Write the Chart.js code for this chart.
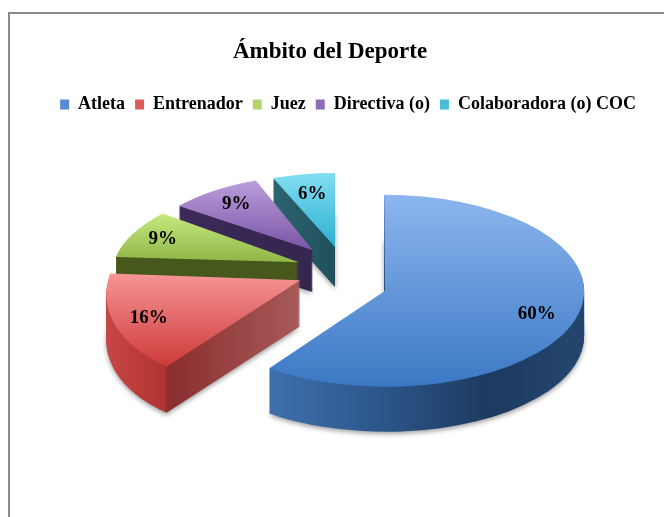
<!DOCTYPE html>
<html>
<head>
<meta charset="utf-8">
<style>html,body{margin:0;padding:0;background:#fff}canvas{display:block}</style>
<script src="https://cdn.jsdelivr.net/npm/chart.js@4"></script>
</head>
<body>
<canvas id="c" width="664" height="517"></canvas>
<script>
const categories = ['Atleta', 'Entrenador', 'Juez', 'Directiva (o)', 'Colaboradora (o) COC'];
const values = [60, 16, 9, 9, 6];
const titleText = 'Ámbito del Deporte';

// Swatch colours
const swatchColors = ['#5b8ad4', '#dc5c5a', '#b0d46a', '#8d6dba', '#48bcd8'];
// Top face gradient (far edge -> near edge)
const topColors = [['#8db6ef', '#3b78c4'], ['#f79595', '#cc3a38'], ['#c8e880', '#8fb646'], ['#bb9ddb', '#7a55a6'], ['#82def2', '#2cb0d0']];
// Side wall gradient (left -> right)
const wallColors = [
  [[0, '#3e70ac'], [0.3, '#2f5a90'], [0.7, '#1d3a60'], [1, '#24466e']],
  [[0, '#c84848'], [0.4, '#b23432'], [0.42, '#8a2e2e'], [1, '#a85a5a']],
  [[0, '#46581c'], [1, '#46581c']],
  [[0, '#3a2a58'], [1, '#35264f']],
  [[0, '#2c6470'], [1, '#1f505c']]
];
// Tilted-view projection for each exploded slice
const pieCentre = {x: 349, y: 272};
const tilt = 0.49;
const explode = [38, 54, 53, 59, 75];
const lift = [13, -3, -1, 1, 11];
const radiusX = [199, 192, 185, 170, 168];
const radiusY = [96, 107, 83, 75, 74];
const shear = [0.01, -0.24, -0.27, -0.08, 0];
const depth = [45, 46, 44, 42, 40];
const labelFraction = [0.8, 0.82, 0.82, 0.77, 0.72];
const legendShift = 18;

function sliceTransform(ctx, el, i) {
  const mid = (el.startAngle + el.endAngle) / 2;
  ctx.translate(pieCentre.x + Math.cos(mid) * explode[i],
                pieCentre.y + Math.sin(mid) * explode[i] * tilt + lift[i]);
  ctx.transform(1, 0, shear[i], 1, 0, 0);
  ctx.scale(radiusX[i] / el.outerRadius, radiusY[i] / el.outerRadius);
  ctx.translate(-el.x, -el.y);
}

function sliceBounds(el) {
  let x0 = el.x, x1 = el.x, y0 = el.y, y1 = el.y;
  for (let k = 0; k <= 40; k++) {
    const a = el.startAngle + (el.endAngle - el.startAngle) * k / 40;
    const px = el.x + Math.cos(a) * el.outerRadius, py = el.y + Math.sin(a) * el.outerRadius;
    x0 = Math.min(x0, px); x1 = Math.max(x1, px); y0 = Math.min(y0, py); y1 = Math.max(y1, py);
  }
  return {x0, x1, y0, y1};
}

function ghost(el, fill) {
  const g = Object.create(el);
  g.options = Object.assign({}, el.options, {backgroundColor: fill, borderWidth: 0});
  return g;
}

const frame = {
  id: 'frame',
  afterLayout(chart) {
    chart.legend.left += legendShift;
    chart.legend.right += legendShift;
  },
  beforeDraw(chart) {
    const ctx = chart.ctx;
    ctx.save();
    ctx.fillStyle = '#fff';
    ctx.fillRect(0, 0, chart.width, chart.height);
    ctx.strokeStyle = '#8a8a8a';
    ctx.lineWidth = 2;
    ctx.beginPath();
    ctx.moveTo(9, chart.height);
    ctx.lineTo(9, 13);
    ctx.lineTo(chart.width, 13);
    ctx.stroke();
    ctx.restore();
  }
};

const tiltedPie = {
  id: 'tiltedPie',
  beforeDatasetsDraw(chart) {
    const ctx = chart.ctx;
    const arcs = chart.getDatasetMeta(0).data;
    for (let i = arcs.length - 1; i >= 0; i--) {
      const el = arcs[i], b = sliceBounds(el);
      const wall = ctx.createLinearGradient(b.x0, 0, b.x1, 0);
      wallColors[i].forEach(s => wall.addColorStop(s[0], s[1]));
      const top = ctx.createLinearGradient(0, b.y0, 0, b.y1);
      top.addColorStop(0, topColors[i][0]);
      top.addColorStop(1, topColors[i][1]);
      for (let d = depth[i]; d >= 0; d--) {
        ctx.save();
        ctx.translate(0, d);
        if (d === depth[i]) {
          ctx.shadowColor = 'rgba(0,0,0,0.4)';
          ctx.shadowBlur = 5;
          ctx.shadowOffsetY = 2;
        }
        sliceTransform(ctx, el, i);
        ghost(el, d === 0 ? top : wall).draw(ctx);
        ctx.restore();
      }
    }
    return false;
  },
  afterDraw(chart) {
    const ctx = chart.ctx;
    const arcs = chart.getDatasetMeta(0).data;
    ctx.save();
    ctx.font = 'bold 19px "Liberation Serif"';
    ctx.fillStyle = '#000';
    ctx.textAlign = 'center';
    ctx.textBaseline = 'middle';
    arcs.forEach((el, i) => {
      const mid = (el.startAngle + el.endAngle) / 2;
      const ux = el.x + Math.cos(mid) * el.outerRadius * labelFraction[i];
      const uy = el.y + Math.sin(mid) * el.outerRadius * labelFraction[i];
      ctx.save();
      sliceTransform(ctx, el, i);
      const p = new DOMPoint(ux, uy).matrixTransform(ctx.getTransform());
      ctx.restore();
      ctx.fillText(values[i] + '%', p.x, p.y);
    });
    ctx.restore();
  }
};

new Chart(document.getElementById('c'), {
  type: 'pie',
  data: {
    labels: categories,
    datasets: [{data: values, backgroundColor: swatchColors, borderWidth: 0}]
  },
  options: {
    responsive: false,
    animation: false,
    layout: {padding: {top: 26, left: 0, right: 4, bottom: 10}},
    plugins: {
      tooltip: {enabled: false},
      title: {
        display: true,
        text: titleText,
        color: '#000',
        font: {family: '"Liberation Serif"', size: 23, weight: 'bold'},
        padding: {top: 12, bottom: 20}
      },
      legend: {
        position: 'top',
        labels: {
          color: '#000',
          font: {family: '"Liberation Serif"', size: 18, weight: 'bold'},
          boxWidth: 9,
          boxHeight: 10,
          padding: 10
        }
      }
    }
  },
  plugins: [frame, tiltedPie]
});
</script>
</body>
</html>
